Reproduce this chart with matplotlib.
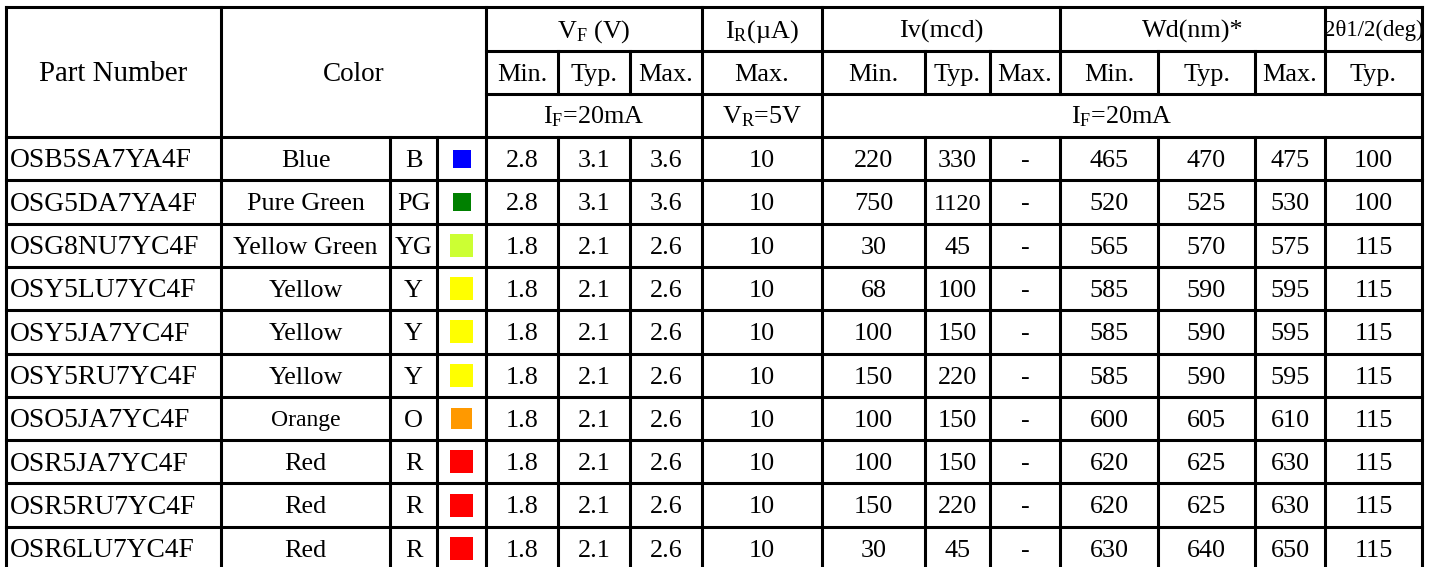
import matplotlib.pyplot as plt
from matplotlib.patches import Rectangle

plt.rcParams['font.family'] = ['Liberation Serif', 'DejaVu Serif']
plt.rcParams['mathtext.fontset'] = 'custom'
plt.rcParams['mathtext.rm'] = 'Liberation Serif'
plt.rcParams['mathtext.it'] = 'Liberation Serif:italic'

# table data
part_numbers = ['OSB5SA7YA4F', 'OSG5DA7YA4F', 'OSG8NU7YC4F', 'OSY5LU7YC4F', 'OSY5JA7YC4F',
                'OSY5RU7YC4F', 'OSO5JA7YC4F', 'OSR5JA7YC4F', 'OSR5RU7YC4F', 'OSR6LU7YC4F']
color_names = ['Blue', 'Pure Green', 'Yellow Green', 'Yellow', 'Yellow',
               'Yellow', 'Orange', 'Red', 'Red', 'Red']
color_codes = ['B', 'PG', 'YG', 'Y', 'Y', 'Y', 'O', 'R', 'R', 'R']
swatches = ['#0000ff', '#008000', '#ccff33', '#ffff00', '#ffff00',
            '#ffff00', '#ff9900', '#ff0000', '#ff0000', '#ff0000']
vf_min = [2.8, 2.8, 1.8, 1.8, 1.8, 1.8, 1.8, 1.8, 1.8, 1.8]
vf_typ = [3.1, 3.1, 2.1, 2.1, 2.1, 2.1, 2.1, 2.1, 2.1, 2.1]
vf_max = [3.6, 3.6, 2.6, 2.6, 2.6, 2.6, 2.6, 2.6, 2.6, 2.6]
ir_max = [10, 10, 10, 10, 10, 10, 10, 10, 10, 10]
iv_min = [220, 750, 30, 68, 100, 150, 100, 100, 150, 30]
iv_typ = [330, 1120, 45, 100, 150, 220, 150, 150, 220, 45]
iv_max = [None] * 10
wd_min = [465, 520, 565, 585, 585, 585, 600, 620, 620, 630]
wd_typ = [470, 525, 570, 590, 590, 590, 605, 625, 625, 640]
wd_max = [475, 530, 575, 595, 595, 595, 610, 630, 630, 650]
angle_typ = [100, 100, 115, 115, 115, 115, 115, 115, 115, 115]

# layout (pixels)
W, H = 1431, 567
cols = [6, 221, 390, 437, 486, 558, 630, 702, 822, 925, 990, 1060, 1158, 1255, 1325, 1422]
h_rows = [7, 50.5, 94, 137]
row_h = 43.3
n = len(part_numbers)
bottom = h_rows[3] + n * row_h
lw = 2.2
fs = 18.8

fig = plt.figure(figsize=(W / 100, H / 100), dpi=100)
ax = fig.add_axes([0, 0, 1, 1])
ax.set_xlim(0, W)
ax.set_ylim(H, 0)
ax.axis('off')


def line(x0, y0, x1, y1):
    ax.plot([x0, x1], [y0, y1], color='black', lw=lw, solid_capstyle='projecting')


def put(text, x0, x1, top, h, size=fs, ha='center'):
    cap = 0.64 * size * 100 / 72
    x = (x0 + x1) / 2 if ha == 'center' else x0 + 4
    ax.text(x, top + h / 2 + cap / 2, text, ha=ha, va='baseline', fontsize=size)


# horizontal lines
line(cols[0], h_rows[0], cols[-1], h_rows[0])
line(cols[4], h_rows[1], cols[-1], h_rows[1])
line(cols[4], h_rows[2], cols[-1], h_rows[2])
for i in range(n + 1):
    y = h_rows[3] + i * row_h
    line(cols[0], y, cols[-1], y)

# vertical lines
full = [0, 1, 4, 7, 8, 15]
for c in full:
    line(cols[c], h_rows[0], cols[c], bottom)
for c in [2, 3]:
    line(cols[c], h_rows[3], cols[c], bottom)
for c in [5, 6, 9, 10, 12, 13]:
    line(cols[c], h_rows[1], cols[c], h_rows[2])
    line(cols[c], h_rows[3], cols[c], bottom)
for c in [11, 14]:
    line(cols[c], h_rows[0], cols[c], h_rows[2])
    line(cols[c], h_rows[3], cols[c], bottom)

# header
top, hh = h_rows[0], h_rows[3] - h_rows[0]
put('Part Number', cols[0], cols[1], top, hh, size=20.8)
put('Color', cols[1], cols[4], top, hh, size=19.5)
r0, r1, r2 = h_rows[0], h_rows[1], h_rows[2]
h0, h1, h2 = r1 - r0, r2 - r1, h_rows[3] - r2
put(r'V$_\mathrm{F}$ (V)', cols[4], cols[7], r0, h0)
put(r'I$_\mathrm{R}$(µA)', cols[7], cols[8], r0, h0)
put('Iv(mcd)', cols[8], cols[11], r0, h0)
put('Wd(nm)*', cols[11], cols[14], r0, h0)
put('2θ1/2(deg)', cols[14], cols[15], r0, h0, size=16.5)
sub_labels = ['Min.', 'Typ.', 'Max.', 'Max.', 'Min.', 'Typ.', 'Max.', 'Min.', 'Typ.', 'Max.', 'Typ.']
for k, lab in enumerate(sub_labels):
    put(lab, cols[4 + k], cols[5 + k], r1, h1)
put(r'I$_\mathrm{F}$=20mA', cols[4], cols[7], r2, h2)
put(r'V$_\mathrm{R}$=5V', cols[7], cols[8], r2, h2)
put(r'I$_\mathrm{F}$=20mA', cols[8], cols[15], r2, h2)

# body
small = {'Orange': 17, '1120': 17.5}
swatch_size = {'B': 18, 'PG': 18, 'O': 21}
for i in range(n):
    top = h_rows[3] + i * row_h
    put(part_numbers[i], cols[0], cols[1], top, row_h, size=19.8, ha='left')
    put(color_names[i], cols[1], cols[2], top, row_h, size=small.get(color_names[i], fs))
    put(color_codes[i], cols[2], cols[3], top, row_h)
    s = swatch_size.get(color_codes[i], 23)
    cx, cy = (cols[3] + cols[4]) / 2, top + row_h / 2
    ax.add_patch(Rectangle((cx - s / 2, cy - s / 2), s, s, color=swatches[i], lw=0))
    vals = [f'{vf_min[i]:.1f}', f'{vf_typ[i]:.1f}', f'{vf_max[i]:.1f}', str(ir_max[i]),
            str(iv_min[i]), str(iv_typ[i]), '-' if iv_max[i] is None else str(iv_max[i]),
            str(wd_min[i]), str(wd_typ[i]), str(wd_max[i]), str(angle_typ[i])]
    for k, v in enumerate(vals):
        put(v, cols[4 + k], cols[5 + k], top, row_h, size=small.get(v, fs))

fig.savefig('out.png', dpi=100)
